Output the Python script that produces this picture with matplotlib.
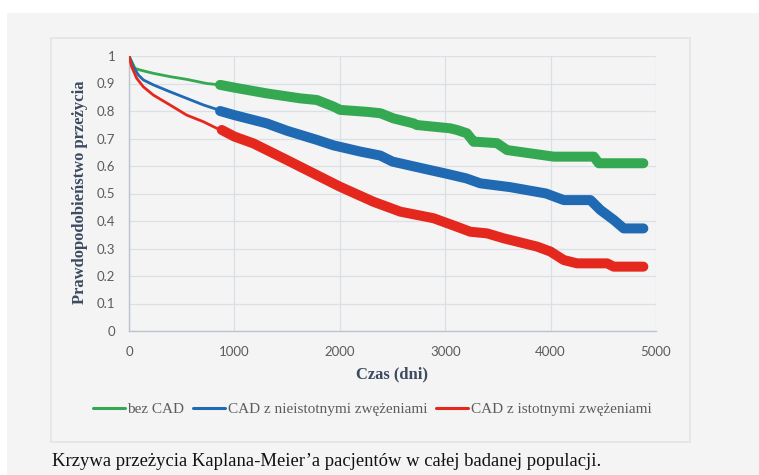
import matplotlib
matplotlib.use("Agg")
import matplotlib.pyplot as plt
from matplotlib.patches import Rectangle

# Kaplan-Meier survival estimates (time in days, survival probability)
t_bez = [0, 57, 105, 231, 389, 548, 738, 864, 1000, 1307, 1624, 1782, 1941, 2004, 2257, 2384,
         2510, 2700, 2731, 3048, 3112, 3206, 3270, 3301, 3492, 3587, 4029, 4410, 4457, 4880]
s_bez = [1.0, 0.955, 0.949, 0.937, 0.925, 0.915, 0.90, 0.895, 0.885, 0.864, 0.846, 0.84, 0.816, 0.804,
         0.797, 0.792, 0.773, 0.755, 0.749, 0.737, 0.731, 0.719, 0.688, 0.688, 0.683, 0.658, 0.634,
         0.634, 0.61, 0.61]

t_nieist = [0, 41, 89, 136, 231, 389, 548, 706, 833, 864, 1000, 1307, 1500, 1782, 1941, 2200,
            2384, 2500, 2858, 3000, 3200, 3333, 3618, 3957, 4125, 4378, 4473, 4599, 4694, 4880]
s_nieist = [1.0, 0.961, 0.931, 0.913, 0.895, 0.87, 0.846, 0.822, 0.806, 0.80, 0.785, 0.755, 0.728,
            0.695, 0.675, 0.652, 0.638, 0.616, 0.585, 0.573, 0.555, 0.537, 0.523, 0.50, 0.476, 0.476,
            0.44, 0.404, 0.373, 0.373]

t_ist = [0, 25, 73, 136, 231, 389, 548, 706, 833, 880, 1000, 1181, 1497, 1782, 2000, 2319, 2574,
         2890, 3112, 3238, 3397, 3555, 3871, 3998, 4125, 4251, 4536, 4599, 4880]
s_ist = [1.0, 0.961, 0.919, 0.888, 0.858, 0.822, 0.785, 0.761, 0.737, 0.731, 0.707, 0.682, 0.622,
         0.567, 0.525, 0.47, 0.434, 0.41, 0.379, 0.361, 0.355, 0.337, 0.307, 0.289, 0.258, 0.246,
         0.246, 0.234, 0.234]

labels = ["bez CAD", "CAD z nieistotnymi zwężeniami", "CAD z istotnymi zwężeniami"]
colors = ["#35a852", "#1f6ab3", "#e5281e"]
series = [(t_bez, s_bez), (t_nieist, s_nieist), (t_ist, s_ist)]

x_ticks = [0, 1000, 2000, 3000, 4000, 5000]
y_ticks = [0, 0.1, 0.2, 0.3, 0.4, 0.5, 0.6, 0.7, 0.8, 0.9, 1]
y_ticklabels = ["0", "0.1", "0.2", "0.3", "0.4", "0.5", "0.6", "0.7", "0.8", "0.9", "1"]

# dense censoring marks start here, drawn as a heavy band
t_dense = 850

serif = ["Liberation Serif", "DejaVu Serif"]
sans = ["Lato", "DejaVu Sans"]
label_col = "#3d4b60"
tick_col = "#5c5c5c"

fig = plt.figure(figsize=(7.59, 4.75), dpi=100, facecolor="white")
W, H = 759, 475

# grey page panel and chart frame
fig.patches.append(Rectangle((7 / W, 0), 1, 1 - 13 / H, transform=fig.transFigure,
                             facecolor="#f4f4f4", edgecolor="none", zorder=-10))
fig.patches.append(Rectangle((51 / W, 1 - 442 / H), (690 - 51) / W, (442 - 38) / H,
                             transform=fig.transFigure, facecolor="none",
                             edgecolor="#e2e4e9", lw=1.2, zorder=-9))

ax = fig.add_axes([129 / W, 1 - 331 / H, (656 - 129) / W, (331 - 56) / H])
ax.set_facecolor("none")

for (t, s), c, lab in zip(series, colors, labels):
    ax.plot(t, s, color=c, lw=2.0, label=lab, solid_capstyle="round", solid_joinstyle="round", zorder=3)
    tt = [x for x in t if x >= t_dense]
    ss = [y for x, y in zip(t, s) if x >= t_dense]
    ax.plot(tt, ss, color=c, lw=7.2, solid_capstyle="round", solid_joinstyle="round", zorder=3)

ax.set_xlim(0, 5000)
ax.set_ylim(0, 1)
ax.set_xticks(x_ticks)
ax.set_yticks(y_ticks)
ax.set_yticklabels(y_ticklabels)
ax.grid(True, color="#dcdfe6", lw=0.9)
ax.set_axisbelow(True)
for side in ["top", "right"]:
    ax.spines[side].set_visible(False)
for side in ["left", "bottom"]:
    ax.spines[side].set_color("#bcc3d0")
    ax.spines[side].set_linewidth(1.0)
ax.tick_params(length=0, labelsize=9.5, labelcolor=tick_col)
ax.tick_params(axis="y", pad=10)
ax.tick_params(axis="x", pad=11)
for lbl in ax.get_xticklabels() + ax.get_yticklabels():
    lbl.set_family(sans)

fig.text(80 / W, 1 - 192 / H, "Prawdopodobieństwo przeżycia", rotation=90, ha="center", va="center",
         family=serif, fontsize=12, fontweight="bold", color=label_col)
fig.text(392 / W, 1 - 374 / H, "Czas (dni)", ha="center", va="center",
         family=serif, fontsize=12, fontweight="bold", color=label_col)

leg = fig.legend(loc="center", bbox_to_anchor=(372 / W, 1 - 409 / H), ncol=3, frameon=False,
                 handlelength=2.1, handletextpad=0.15, columnspacing=0.6,
                 prop={"family": serif, "size": 11})
for line in leg.get_lines():
    line.set_linewidth(2.2)
for txt in leg.get_texts():
    txt.set_color(tick_col)

fig.text(52 / W, 1 - 462 / H, "Krzywa przeżycia Kaplana-Meier’a pacjentów w całej badanej populacji.",
         ha="left", va="center", family=serif, fontsize=13.4, color="#111111")

fig.savefig("out.png", dpi=100, facecolor=fig.get_facecolor())
